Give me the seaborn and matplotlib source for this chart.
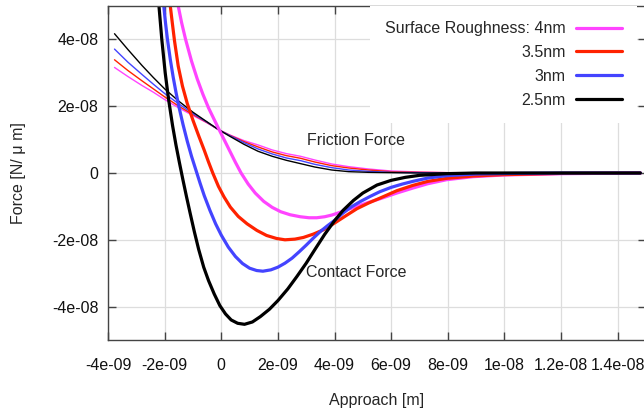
import numpy as np
import pandas as pd
import seaborn as sns
import matplotlib.pyplot as plt

# approach in nm, force in 1e-8 N/um
labels = ['Surface Roughness: 4nm', '3.5nm', '3nm', '2.5nm']
colors = ['#ff44ff', '#ff2200', '#4444ff', '#000000']

# contact force (thick lines)
c4_x = [-1.6, -1.52, -1.4, -1.26, -1.05, -0.85, -0.65, -0.45, -0.25, -0.1, 0.1, 0.3, 0.5, 0.7,
        0.95, 1.2, 1.5, 1.8, 2.1, 2.43, 2.79, 3.1, 3.37, 3.65, 3.9, 4.15, 4.4, 4.79, 5.2, 5.61,
        6.2, 6.77, 7.3, 7.96, 8.9, 9.95, 12.06, 14.8]
c4_y = [5.5, 5.0, 4.5, 4.0, 3.35, 2.82, 2.36, 1.95, 1.6, 1.34, 1.0, 0.66, 0.32, 0.0,
        -0.33, -0.6, -0.85, -1.03, -1.16, -1.25, -1.31, -1.34, -1.34, -1.31, -1.26, -1.19, -1.11, -1.0, -0.88, -0.77,
        -0.6, -0.45, -0.32, -0.2, -0.11, -0.06, -0.02, 0.0]
c35_x = [-1.86, -1.8, -1.73, -1.65, -1.52, -1.37, -1.2, -1.0, -0.8, -0.6, -0.45, -0.3, -0.1, 0.1,
         0.32, 0.6, 0.91, 1.26, 1.6, 1.95, 2.25, 2.6, 2.9, 3.25, 3.61, 4.0, 4.4, 4.79, 5.2, 5.61,
         6.2, 6.77, 7.3, 7.96, 8.9, 9.95, 12.06, 14.8]
c35_y = [5.5, 5.0, 4.5, 3.95, 3.2, 2.6, 2.08, 1.58, 1.12, 0.68, 0.33, 0.0, -0.4, -0.72,
         -1.02, -1.3, -1.52, -1.72, -1.87, -1.96, -2.0, -1.98, -1.93, -1.83, -1.7, -1.5, -1.28, -1.07, -0.9, -0.75,
         -0.53, -0.37, -0.25, -0.16, -0.09, -0.05, -0.01, 0.0]
c3_x = [-2.08, -2.03, -1.97, -1.9, -1.8, -1.7, -1.6, -1.5, -1.35, -1.2, -1.05, -0.9, -0.75, -0.6,
        -0.4, -0.2, 0.0, 0.25, 0.5, 0.75, 1.0, 1.25, 1.47, 1.75, 2.0, 2.25, 2.5, 2.75, 3.0, 3.25,
        3.5, 3.75, 4.0, 4.3, 4.6, 4.9, 5.26, 5.6, 6.0, 6.4, 6.77, 7.3, 7.96, 9.0, 10.5, 12.0, 14.8]
c3_y = [5.5, 5.0, 4.5, 4.0, 3.4, 2.88, 2.42, 2.0, 1.45, 0.95, 0.5, 0.1, -0.3, -0.68,
        -1.12, -1.52, -1.86, -2.22, -2.5, -2.71, -2.85, -2.92, -2.94, -2.9, -2.82, -2.7, -2.55, -2.36, -2.16, -1.95,
        -1.75, -1.58, -1.42, -1.2, -1.01, -0.86, -0.7, -0.56, -0.43, -0.33, -0.25, -0.15, -0.08, -0.03, -0.01, 0.0, 0.0]
c25_x = [-2.25, -2.2, -2.1, -1.98, -1.86, -1.72, -1.6, -1.48, -1.36, -1.23, -1.1, -0.95, -0.8, -0.62,
         -0.45, -0.25, -0.05, 0.15, 0.35, 0.58, 0.82, 1.1, 1.38, 1.7, 2.0, 2.35, 2.67, 3.0, 3.3, 3.65,
         4.0, 4.3, 4.67, 5.0, 5.5, 6.0, 6.5, 7.0, 7.96, 9.0, 11.0, 14.8]
c25_y = [5.5, 5.0, 4.0, 3.0, 2.2, 1.42, 0.84, 0.32, -0.18, -0.7, -1.2, -1.76, -2.28, -2.82,
         -3.22, -3.62, -3.97, -4.22, -4.4, -4.5, -4.53, -4.46, -4.3, -4.08, -3.82, -3.47, -3.1, -2.7, -2.3, -1.84,
         -1.43, -1.12, -0.82, -0.6, -0.36, -0.22, -0.13, -0.07, -0.02, 0.0, 0.0, 0.0]

# friction force (thin lines)
f_x = [-3.77, -3.3, -2.8, -2.4, -2.0, -1.5, -1.0, -0.5, -0.1, 0.3, 0.8, 1.3, 1.8, 2.3, 2.8, 3.3,
       3.9, 4.5, 5.2, 6.0, 7.0, 8.0, 14.8]
f4_y = [3.16, 2.89, 2.62, 2.42, 2.2, 1.95, 1.72, 1.5, 1.3, 1.14, 0.97, 0.84, 0.69, 0.58, 0.5, 0.39,
        0.27, 0.19, 0.12, 0.06, 0.03, 0.01, 0.0]
f35_y = [3.39, 3.07, 2.76, 2.52, 2.28, 2.0, 1.75, 1.51, 1.3, 1.13, 0.94, 0.78, 0.63, 0.52, 0.44, 0.33,
         0.22, 0.15, 0.09, 0.04, 0.02, 0.01, 0.0]
f3_y = [3.71, 3.32, 2.95, 2.66, 2.38, 2.07, 1.78, 1.52, 1.3, 1.12, 0.91, 0.72, 0.57, 0.45, 0.37, 0.26,
        0.16, 0.09, 0.05, 0.02, 0.01, 0.0, 0.0]
f25_y = [4.17, 3.7, 3.22, 2.86, 2.52, 2.15, 1.82, 1.53, 1.3, 1.1, 0.86, 0.65, 0.5, 0.38, 0.28, 0.18,
         0.09, 0.04, 0.02, 0.01, 0.0, 0.0, 0.0]

xticks = [-4e-9, -2e-9, 0, 2e-9, 4e-9, 6e-9, 8e-9, 1e-8, 1.2e-8, 1.4e-8]
xticklabels = ['-4e-09', '-2e-09', '0', '2e-09', '4e-09', '6e-09', '8e-09', '1e-08', '1.2e-08', '1.4e-08']
yticks = [-4e-8, -2e-8, 0, 2e-8, 4e-8]
yticklabels = ['-4e-08', '-2e-08', '0', '2e-08', '4e-08']

sns.set_style('ticks')
plt.rcParams['font.family'] = ['Liberation Sans', 'DejaVu Sans']
fs = 11.5

fig = plt.figure(figsize=(6.44, 4.09), dpi=100)
ax = fig.add_axes([108 / 644, 1 - 340 / 409, 538 / 644, 334 / 409])

contact = [(c4_x, c4_y), (c35_x, c35_y), (c3_x, c3_y), (c25_x, c25_y)]
friction = [f4_y, f35_y, f3_y, f25_y]

for fy, col in zip(friction, colors):
    sns.lineplot(x=np.array(f_x) * 1e-9, y=np.array(fy) * 1e-8, ax=ax,
                 color=col, lw=1.0, sort=False, estimator=None)

handles = []
for (cx, cy), col in zip(contact, colors):
    sns.lineplot(x=np.array(cx) * 1e-9, y=np.array(cy) * 1e-8, ax=ax,
                 color=col, lw=2.3, sort=False, estimator=None)
    handles.append(ax.lines[-1])

ax.set_xlim(-4e-9, 1.5e-8)
ax.set_ylim(-5e-8, 5e-8)
ax.set_xticks(xticks, xticklabels)
ax.set_yticks(yticks, yticklabels)
ax.grid(True, color='#dddddd', lw=0.9)
ax.tick_params(direction='in', length=5.8, width=1, top=True, right=True,
               labelsize=fs, color='#444444', labelcolor='#111111')
ax.tick_params(axis='x', pad=13)
ax.tick_params(axis='y', pad=7)
for s in ax.spines.values():
    s.set_color('#444444')
    s.set_linewidth(1)

ax.set_xlabel('Approach [m]', fontsize=fs)
ax.xaxis.set_label_coords(0.5, -(400 - 340) / 334)
ax.xaxis.label.set_va('center')
ax.set_ylabel('Force [N/ μ m]', fontsize=fs)
ax.yaxis.set_label_coords(-(108 - 18) / 538, 0.5)
ax.yaxis.label.set_va('center')

ax.text(3.03e-9, 0.97e-8, 'Friction Force', fontsize=fs, va='center')
ax.text(3.0e-9, -2.97e-8, 'Contact Force', fontsize=fs, va='center')

leg = ax.legend(handles, labels, loc='upper right', bbox_to_anchor=((637 - 108) / 538, 1.0),
                borderaxespad=0, markerfirst=False, frameon=True, framealpha=1,
                fancybox=False, edgecolor='none', fontsize=fs, handlelength=2.875,
                handletextpad=0.63, labelspacing=0.55, borderpad=0.95)

fig.savefig('out.png', dpi=100)
